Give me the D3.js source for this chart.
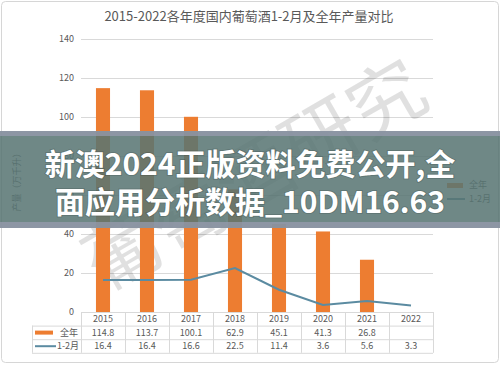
<!DOCTYPE html>
<html>
<head>
<meta charset="utf-8">
<script src="https://cdn.jsdelivr.net/npm/d3@7"></script>
<style>
body{margin:0;background:#fff;}
text{font-family:"Noto Sans CJK SC","Noto Sans",sans-serif;}
</style>
</head>
<body>
<div class="container"></div>
<script>
//chart data
const years = ['2015','2016','2017','2018','2019','2020','2021','2022'];
const fullYear = [114.8, 113.7, 100.1, 62.9, 45.1, 41.3, 26.8, null];
const janFeb = [16.4, 16.4, 16.6, 22.5, 11.4, 3.6, 5.6, 3.3];
const yTicks = [0, 20, 40, 60, 80, 100, 120, 140];
const seriesNames = ['全年', '1-2月'];

const W = 500, H = 365;
const margin = {t:39, r:67, b:53, l:81};
const orange = '#ED7D31';
const blue = '#5b8ba1';
const grid = '#d9d9d9';
const textColor = '#595959';

const svg = d3.select('.container')
	.append('svg')
	.attr('width', W)
	.attr('height', H);

//outer frame
svg.append('rect')
	.attr('x', 1.5).attr('y', 1.5)
	.attr('width', W-3).attr('height', H-4)
	.attr('rx', 4)
	.style('fill', 'none')
	.style('stroke', '#d6d6d6');

svg.append('text')
	.attr('x', 249).attr('y', 21)
	.attr('text-anchor', 'middle')
	.style('font-size', '13px')
	.style('fill', textColor)
	.text('2015-2022各年度国内葡萄酒1-2月及全年产量对比');

const x = d3.scaleBand()
	.domain(years)
	.range([margin.l, W - margin.r]);
const y = d3.scaleLinear()
	.domain([0, 140])
	.range([H - margin.b, margin.t]);

//gridlines
svg.selectAll('.grid')
	.data(yTicks)
	.enter()
	.append('line')
	.attr('class', 'grid')
	.attr('x1', margin.l)
	.attr('x2', W - margin.r)
	.attr('y1', function(d){ return y(d) + 0.5 })
	.attr('y2', function(d){ return y(d) + 0.5 })
	.style('stroke', grid);

//y axis labels
svg.selectAll('.ylabel')
	.data(yTicks)
	.enter()
	.append('text')
	.attr('class', 'ylabel')
	.attr('x', 74)
	.attr('y', function(d){ return y(d) + 3 })
	.attr('text-anchor', 'end')
	.style('font-size', '9px')
	.style('fill', textColor)
	.text(function(d){ return d });

//y axis title
svg.append('text')
	.attr('transform', 'translate(20,180) rotate(-90)')
	.attr('text-anchor', 'middle')
	.style('font-size', '9px')
	.style('fill', textColor)
	.text('产量（万千升）');

//watermark
svg.append('text')
	.attr('transform', 'translate(255,176) rotate(-30)')
	.attr('text-anchor', 'middle')
	.attr('dy', '0.35em')
	.style('font-size', '76px')
	.style('fill', '#000')
	.style('fill-opacity', 0.12)
	.text('葡萄酒研究');

//bars
const barW = x.bandwidth() * 0.32;
svg.selectAll('.bar')
	.data(years.filter(function(d, i){ return fullYear[i] != null }))
	.enter()
	.append('rect')
	.attr('class', 'bar')
	.attr('x', function(d){ return x(d) + (x.bandwidth() - barW)/2 })
	.attr('width', barW)
	.attr('y', function(d){ return y(fullYear[years.indexOf(d)]) })
	.attr('height', function(d){ return y(0) - y(fullYear[years.indexOf(d)]) })
	.style('fill', orange);

//line
const line = d3.line()
	.x(function(d, i){ return x(years[i]) + x.bandwidth()/2 })
	.y(function(d){ return y(d) });
svg.append('path')
	.datum(janFeb)
	.attr('d', line)
	.style('fill', 'none')
	.style('stroke', blue)
	.style('stroke-width', 2);

//legend at right
const lg = svg.append('g').attr('transform', 'translate(447,185)');
lg.append('rect').attr('x', 0).attr('y', -2).attr('width', 16).attr('height', 5).style('fill', orange);
lg.append('text').attr('x', 22).attr('y', 3).style('font-size', '9px').style('fill', textColor).text(seriesNames[0]);
lg.append('line').attr('x1', 0).attr('x2', 18).attr('y1', 14).attr('y2', 14).style('stroke', blue).style('stroke-width', 2);
lg.append('text').attr('x', 22).attr('y', 17).style('font-size', '9px').style('fill', textColor).text(seriesNames[1]);

//data table
const rowH = 13.6;
const t0 = y(0);
const tableL = 32;
const tableR = W - margin.r;
const table = svg.append('g').attr('class', 'table');

table.selectAll('.hline')
	.data([0, 1, 2, 3])
	.enter()
	.append('line')
	.attr('x1', function(d){ return d == 0 ? margin.l : tableL })
	.attr('x2', tableR)
	.attr('y1', function(d){ return t0 + d*rowH + 0.5 })
	.attr('y2', function(d){ return t0 + d*rowH + 0.5 })
	.style('stroke', grid);

table.selectAll('.vline')
	.data(years.concat(['end']))
	.enter()
	.append('line')
	.attr('x1', function(d){ return (d == 'end' ? tableR : x(d)) + 0.5 })
	.attr('x2', function(d){ return (d == 'end' ? tableR : x(d)) + 0.5 })
	.attr('y1', t0)
	.attr('y2', t0 + 3*rowH)
	.style('stroke', grid);
table.append('line')
	.attr('x1', tableL + 0.5).attr('x2', tableL + 0.5)
	.attr('y1', t0 + rowH).attr('y2', t0 + 3*rowH)
	.style('stroke', grid);

const cellText = function(row, vals){
	table.selectAll('.row' + row)
		.data(vals)
		.enter()
		.append('text')
		.attr('x', function(d, i){ return x(years[i]) + x.bandwidth()/2 })
		.attr('y', t0 + row*rowH + 10)
		.attr('text-anchor', 'middle')
		.style('font-size', '9px')
		.style('fill', textColor)
		.text(function(d){ return d == null ? '' : d3.format('.1f')(d) });
};
table.selectAll('.year')
	.data(years)
	.enter()
	.append('text')
	.attr('x', function(d){ return x(d) + x.bandwidth()/2 })
	.attr('y', t0 + 10)
	.attr('text-anchor', 'middle')
	.style('font-size', '9px')
	.style('fill', textColor)
	.text(function(d){ return d });
cellText(1, fullYear);
cellText(2, janFeb);

//table legend keys
table.append('rect')
	.attr('x', 35).attr('y', t0 + rowH + 5)
	.attr('width', 18).attr('height', 4)
	.style('fill', orange);
table.append('text')
	.attr('x', 60).attr('y', t0 + rowH + 10)
	.style('font-size', '9px').style('fill', textColor)
	.text(seriesNames[0]);
table.append('line')
	.attr('x1', 35).attr('x2', 56)
	.attr('y1', t0 + 2*rowH + 7).attr('y2', t0 + 2*rowH + 7)
	.style('stroke', blue).style('stroke-width', 2);
table.append('text')
	.attr('x', 57).attr('y', t0 + 2*rowH + 10)
	.style('font-size', '9px').style('fill', textColor)
	.text(seriesNames[1]);

//overlay banner
svg.append('rect')
	.attr('x', 0).attr('y', 131)
	.attr('width', W).attr('height', 97)
	.style('fill', '#577472')
	.style('fill-opacity', 0.86);
svg.append('rect')
	.attr('x', 0).attr('y', 131)
	.attr('width', W).attr('height', 5)
	.style('fill', '#9a9cb0')
	.style('fill-opacity', 0.7);
svg.append('rect')
	.attr('x', 0).attr('y', 222)
	.attr('width', W).attr('height', 6)
	.style('fill', '#9a9cb0')
	.style('fill-opacity', 0.7);

const bannerLines = ['新澳2024正版资料免费公开,全', '面应用分析数据_10DM16.63'];
svg.selectAll('.banner')
	.data(bannerLines)
	.enter()
	.append('text')
	.attr('class', 'banner')
	.attr('x', 250)
	.attr('y', function(d, i){ return 175 + i*38 })
	.attr('text-anchor', 'middle')
	.style('font-size', '30px')
	.style('font-weight', 'bold')
	.style('fill', '#fff')
	.style('paint-order', 'stroke')
	.style('stroke', 'rgba(0,0,0,0.15)')
	.style('stroke-width', 2)
	.text(function(d){ return d });
</script>
</body>
</html>
